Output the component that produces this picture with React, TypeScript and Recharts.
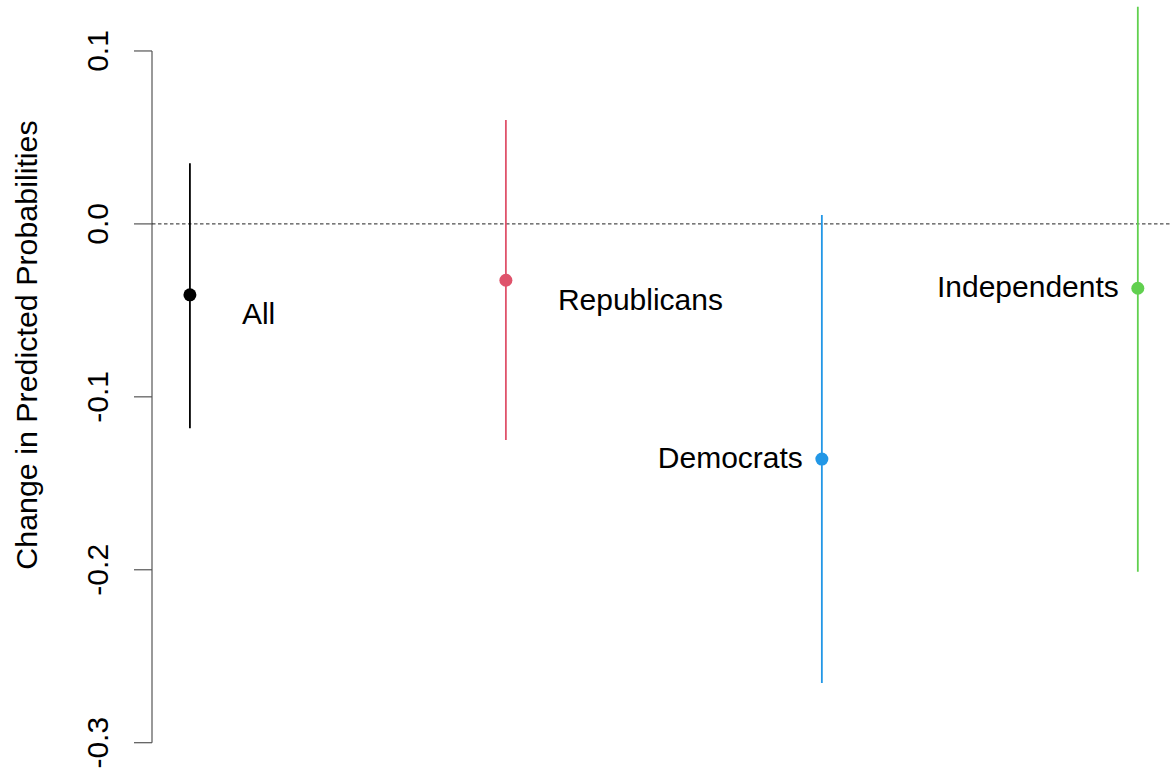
import React from "react";
import { ScatterChart, Scatter, XAxis, YAxis, ErrorBar, ReferenceLine } from "recharts";

const GROUPS = ["All", "Republicans", "Democrats", "Independents"];
const ESTIMATES = [-0.041, -0.0326, -0.136, -0.0372];
const LOWER = [-0.1181, -0.1249, -0.2655, -0.2012];
const UPPER = [0.0351, 0.0601, 0.0052, 0.1256];
const COLORS = ["#000000", "#DF536B", "#2297E6", "#61D04F"];
const LABEL_SIDE = ["right", "right", "left", "left"];
const Y_TICKS = [-0.3, -0.2, -0.1, 0, 0.1];

const FONT = "'Liberation Sans', Arial, sans-serif";

const series = GROUPS.map((name, i) => ({
  name,
  color: COLORS[i],
  side: LABEL_SIDE[i],
  data: [{ x: i + 1, y: ESTIMATES[i], err: [ESTIMATES[i] - LOWER[i], UPPER[i] - ESTIMATES[i]], name }],
}));

const fmt = (v: number) => (v === 0 ? "0.0" : v.toFixed(1));

function YTick(props: any) {
  const { x, y, payload } = props;
  return (
    <text x={x} y={y} transform={`rotate(-90, ${x}, ${y})`} textAnchor="middle" fontSize={30} fontFamily={FONT} fill="#000">
      {fmt(payload.value)}
    </text>
  );
}

function YTitle(props: any) {
  const vb = props.viewBox || { x: 0, y: 0 };
  const tx = vb.x + 37;
  const ty = 345;
  return (
    <text x={tx} y={ty} transform={`rotate(-90, ${tx}, ${ty})`} textAnchor="middle" fontSize={30.4} fontFamily={FONT} fill="#000">
      Change in Predicted Probabilities
    </text>
  );
}

function makeShape(color: string, side: string) {
  return (p: any) => {
    const { cx, cy, payload } = p;
    const right = side === "right";
    return (
      <g>
        <circle cx={cx} cy={cy} r={6.5} fill={color} />
        <text
          x={right ? cx + 52 : cx - 19}
          y={right ? cy + 29.5 : cy + 9}
          textAnchor={right ? "start" : "end"}
          fontSize={30}
          fontFamily={FONT}
          fill="#000"
        >
          {payload.name}
        </text>
      </g>
    );
  };
}

export default function App() {
  return (
    <div style={{ position: "absolute", left: 0, top: 0, background: "#fff" }}>
      <ScatterChart width={1171} height={776} margin={{ top: 6, right: 0, bottom: 16, left: 0 }}>
        <XAxis type="number" dataKey="x" domain={[0.88, 4.105]} allowDataOverflow hide />
        <YAxis
          type="number"
          dataKey="y"
          domain={[-0.31, 0.126]}
          allowDataOverflow
          ticks={Y_TICKS}
          interval={0}
          width={152}
          axisLine={false}
          tickLine={{ stroke: "#555", strokeWidth: 1.2 }}
          tickSize={18}
          tickMargin={26}
          tick={<YTick />}
          label={<YTitle />}
        />
        <ReferenceLine
          segment={[{ x: 0.88, y: 0.1 }, { x: 0.88, y: -0.3 }]}
          stroke="#555"
          strokeWidth={1.2}
          ifOverflow="visible"
        />
        <ReferenceLine y={0} stroke="#222" strokeWidth={1} strokeDasharray="3.5 2.5" />
        {series.map((s) => (
          <Scatter
            key={s.name}
            name={s.name}
            data={s.data}
            fill={s.color}
            shape={makeShape(s.color, s.side)}
            isAnimationActive={false}
          >
            <ErrorBar dataKey="err" direction="y" width={0} stroke={s.color} strokeWidth={1.8} />
          </Scatter>
        ))}
      </ScatterChart>
    </div>
  );
}
